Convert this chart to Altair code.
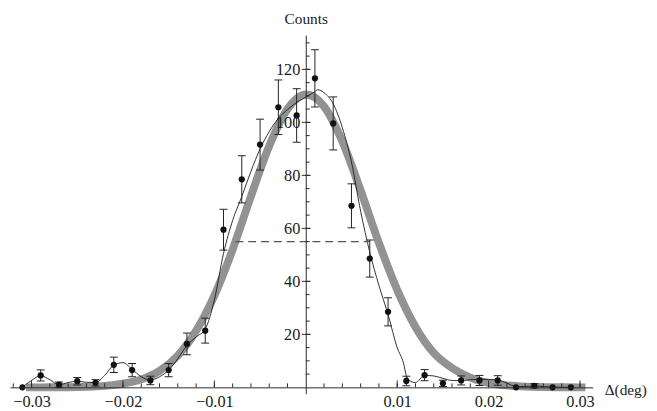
import altair as alt
import pandas as pd

x_data = [-0.031, -0.029, -0.027, -0.025, -0.023, -0.021, -0.019, -0.017, -0.015, -0.013,
          -0.011, -0.009, -0.007, -0.005, -0.003, -0.001, 0.001, 0.003, 0.005, 0.007,
          0.009, 0.011, 0.013, 0.015, 0.017, 0.019, 0.021, 0.023, 0.025, 0.027, 0.029]
counts = [0.0, 4.5, 1.0, 2.3, 1.7, 8.5, 6.5, 2.6, 6.5, 16.4,
          21.4, 59.5, 78.5, 91.6, 105.7, 102.6, 116.6, 99.6, 68.5, 48.6,
          28.5, 2.4, 4.6, 1.5, 2.6, 2.6, 2.6, 0.0, 0.6, 0.0, 0.0]
errors = [0.0, 2.1, 1.0, 1.4, 1.2, 2.9, 2.5, 1.6, 2.5, 4.1,
          4.7, 7.7, 8.9, 9.6, 10.3, 10.1, 10.8, 10.0, 8.3, 7.0,
          5.3, 1.8, 2.1, 1.2, 1.7, 1.9, 1.8, 0.0, 0.8, 0.0, 0.0]

# thick grey fitted curve
fit_x = [-0.0306, -0.030, -0.028, -0.026, -0.024, -0.022, -0.020, -0.018, -0.016, -0.014,
         -0.012, -0.010, -0.008, -0.006, -0.004, -0.002, 0.000, 0.002, 0.004, 0.006,
         0.008, 0.010, 0.012, 0.014, 0.016, 0.018, 0.020, 0.022, 0.024, 0.026,
         0.028, 0.030, 0.0306]
fit_y = [0.0, 0.0, 0.02, 0.06, 0.2, 0.55, 1.4, 3.0, 6.2, 12.0,
         21.3, 34.6, 52.0, 72.1, 91.1, 105.0, 110.5, 106.0, 92.8, 74.3,
         54.5, 36.8, 22.8, 13.0, 7.3, 3.7, 1.7, 0.75, 0.28, 0.1,
         0.03, 0.0, 0.0]

# thin black smoothed curve
smooth_x = [-0.031, -0.030, -0.029, -0.028, -0.027, -0.026, -0.025, -0.024, -0.023, -0.022,
            -0.021, -0.020, -0.019, -0.018, -0.017, -0.016, -0.015, -0.014, -0.013, -0.012,
            -0.011, -0.010, -0.009, -0.008, -0.007, -0.006, -0.005, -0.004, -0.003, -0.002,
            -0.001, 0.000, 0.001, 0.0013, 0.002, 0.003, 0.004, 0.005, 0.006, 0.007,
            0.008, 0.009, 0.010, 0.0107, 0.011, 0.0115, 0.012, 0.013, 0.014, 0.015,
            0.016, 0.017, 0.018, 0.019, 0.020, 0.021, 0.022, 0.023, 0.024, 0.025,
            0.026, 0.027, 0.028, 0.029]
smooth_y = [0.0, 2.6, 4.4, 2.9, 1.0, 1.8, 2.3, 1.9, 1.8, 4.5,
            8.4, 9.3, 6.8, 4.0, 2.8, 4.0, 6.5, 10.8, 15.8, 19.0,
            22.0, 33.0, 50.5, 63.0, 72.0, 81.5, 90.0, 96.5, 101.5, 104.8,
            107.5, 109.5, 111.6, 112.3, 111.2, 107.0, 98.0, 85.0, 66.5, 51.0,
            38.5, 27.5, 15.0, 9.0, 4.5, 2.2, 1.8, 4.5, 4.3, 3.4,
            2.6, 2.5, 2.9, 3.0, 3.0, 2.8, 1.6, 0.3, 0.3, 0.5,
            0.3, 0.1, 0.0, 0.0]

# half-maximum dashed marker
half_max = [55.0]
half_left = [-0.0077]
half_right = [0.0070]

# axis labels / ticks
x_label_values = [-0.03, -0.02, -0.01, 0.01, 0.02, 0.03]
y_label_values = [20, 40, 60, 80, 100, 120]
x_minor = [-0.032, -0.030, -0.028, -0.026, -0.024, -0.022, -0.020, -0.018, -0.016, -0.014,
           -0.012, -0.010, -0.008, -0.006, -0.004, -0.002, 0.002, 0.004, 0.006, 0.008,
           0.010, 0.012, 0.014, 0.016, 0.018, 0.020, 0.022, 0.024, 0.026, 0.028, 0.030]
y_minor = [5, 10, 15, 20, 25, 30, 35, 40, 45, 50, 55, 60, 65, 70, 75, 80, 85, 90,
           95, 100, 105, 110, 115, 120, 125, 130]

# ---- layout ----
W, H = 590, 363
XMIN, XMAX = -0.03236, 0.03139
YMIN, YMAX = -2.4, 132.9
FONT = "Liberation Serif"
FS = 16.5
TFS = 15.5
AX = "#2a2a2a"

pts = pd.DataFrame({"x": x_data, "y": counts, "err": errors})
pts["lo"] = pts["y"] - pts["err"]
pts["hi"] = pts["y"] + pts["err"]
fit = pd.DataFrame({"x": fit_x, "y": fit_y})
smooth = pd.DataFrame({"x": smooth_x, "y": smooth_y})
half = pd.DataFrame({"x": half_left, "x2": half_right, "y": half_max})
xmaj = pd.DataFrame({"x": x_label_values})
xmin_df = pd.DataFrame({"x": x_minor})
ymaj = pd.DataFrame({"y": y_label_values})
ymin_df = pd.DataFrame({"y": y_minor})

y_axis_offset = -W * (0 - XMIN) / (XMAX - XMIN)
x_axis_offset = -H * (0 - YMIN) / (YMAX - YMIN)

xs = alt.Scale(domain=[XMIN, XMAX], nice=False, zero=False)
ys = alt.Scale(domain=[YMIN, YMAX], nice=False, zero=False)

x_axis = alt.Axis(values=x_label_values, ticks=False, tickSize=0, grid=False,
                  labelExpr="datum.value < 0 ? '\u2212' + format(-datum.value, '.2f') : format(datum.value, '.2f')",
                  domainColor=AX, domainWidth=1, labelFont=FONT, labelFontSize=FS,
                  labelColor="#1a1a1a", labelPadding=6, offset=x_axis_offset, zindex=1,
                  title="Δ(deg)", titleFont=FONT, titleFontSize=TFS, titleFontWeight="normal",
                  titleColor="#1a1a1a", titleX=W + 33, titleY=2, titleAlign="center",
                  titleBaseline="middle", labelFlush=False)
y_axis = alt.Axis(values=y_label_values, ticks=False, tickSize=0, grid=False,
                  domainColor=AX, domainWidth=1, labelFont=FONT, labelFontSize=FS,
                  labelColor="#1a1a1a", labelPadding=6, offset=y_axis_offset, zindex=1,
                  title="Counts", titleFont=FONT, titleFontSize=TFS, titleFontWeight="normal",
                  titleColor="#1a1a1a", titleAngle=0, titleX=0, titleY=-11.5, titleAlign="center",
                  titleBaseline="alphabetic", labelFlush=False)

base_x = alt.X("x:Q", scale=xs, axis=x_axis)
base_y = alt.Y("y:Q", scale=ys, axis=y_axis)

fit_layer = alt.Chart(fit).mark_line(color="#929292", strokeWidth=8, interpolate="monotone",
                                     strokeCap="butt").encode(x=base_x, y=base_y)

smooth_layer = alt.Chart(smooth).mark_line(color="#1a1a1a", strokeWidth=0.9,
                                           interpolate="monotone").encode(
    x=alt.X("x:Q", scale=xs), y=alt.Y("y:Q", scale=ys))

half_layer = alt.Chart(half).mark_rule(color="#555555", strokeWidth=1.2,
                                       strokeDash=[8, 5]).encode(
    x=alt.X("x:Q", scale=xs), x2="x2:Q", y=alt.Y("y:Q", scale=ys))

err_src = alt.Chart(pts).transform_filter("datum.err > 0")
err_layer = err_src.mark_rule(color="#222222", strokeWidth=1).encode(
    x=alt.X("x:Q", scale=xs), y=alt.Y("lo:Q", scale=ys), y2="hi:Q")
cap_lo = err_src.mark_tick(orient="horizontal", size=8, thickness=1, color="#222222",
                           opacity=1).encode(x=alt.X("x:Q", scale=xs), y=alt.Y("lo:Q", scale=ys))
cap_hi = err_src.mark_tick(orient="horizontal", size=8, thickness=1, color="#222222",
                           opacity=1).encode(x=alt.X("x:Q", scale=xs), y=alt.Y("hi:Q", scale=ys))

pt_layer = alt.Chart(pts).mark_circle(size=40, color="#111111", opacity=1).encode(
    x=alt.X("x:Q", scale=xs), y=alt.Y("y:Q", scale=ys))

# inward ticks on the x axis (pointing up)
xminor_layer = alt.Chart(xmin_df).mark_rule(color=AX, strokeWidth=1, y2Offset=-4).encode(
    x=alt.X("x:Q", scale=xs), y=alt.datum(0, scale=ys), y2=alt.datum(0))
xmajor_layer = alt.Chart(xmaj).mark_rule(color=AX, strokeWidth=1, y2Offset=-7).encode(
    x=alt.X("x:Q", scale=xs), y=alt.datum(0, scale=ys), y2=alt.datum(0))
# ticks on the y axis
yminor_layer = alt.Chart(ymin_df).mark_rule(color=AX, strokeWidth=1, x2Offset=4).encode(
    y=alt.Y("y:Q", scale=ys), x=alt.datum(0, scale=xs), x2=alt.datum(0))
ymajor_layer = alt.Chart(ymaj).mark_rule(color=AX, strokeWidth=1, xOffset=-4,
                                         x2Offset=5).encode(
    y=alt.Y("y:Q", scale=ys), x=alt.datum(0, scale=xs), x2=alt.datum(0))

chart = alt.layer(
    fit_layer, smooth_layer, half_layer, err_layer, cap_lo, cap_hi, pt_layer,
    xminor_layer, xmajor_layer, yminor_layer, ymajor_layer
).properties(
    width=W, height=H,
    background="white",
    padding={"left": 2, "top": 25, "right": 57, "bottom": 15},
    autosize=alt.AutoSizeParams(type="none"),
).configure_view(strokeWidth=0, stroke=None)

chart.save("out.html", embed_options={"renderer": "svg", "actions": False})
